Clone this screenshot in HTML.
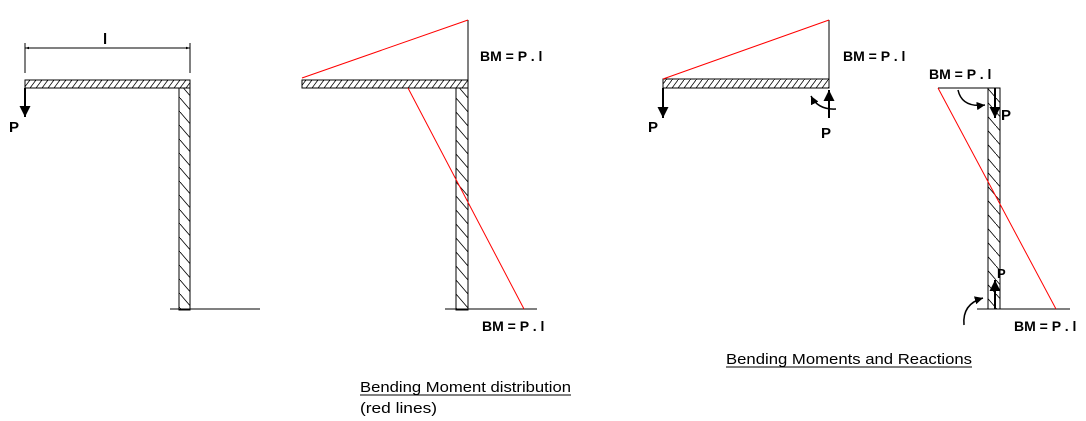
<!DOCTYPE html>
<html><head><meta charset="utf-8"><style>
html,body{margin:0;padding:0;background:#fff;}
svg{display:block;}
.bm{font-family:"Liberation Sans",sans-serif;font-weight:bold;font-size:14px;}
.cap{font-family:"Liberation Sans",sans-serif;font-size:15px;}
</style></head><body>
<svg width="1086" height="421" viewBox="0 0 1086 421" xmlns="http://www.w3.org/2000/svg">
<defs>
<pattern id="hb" patternUnits="userSpaceOnUse" width="6" height="8">
<line x1="0" y1="8" x2="6" y2="0" stroke="#000" stroke-width="0.8"/>
</pattern>
<pattern id="hc" patternUnits="userSpaceOnUse" width="12" height="14">
<line x1="0" y1="0" x2="12" y2="14" stroke="#000" stroke-width="0.8"/>
</pattern>
<marker id="ar" viewBox="0 0 10 10" refX="10" refY="5" markerWidth="5.5" markerHeight="5.5" orient="auto">
<path d="M0,0 L10,5 L0,10 z" fill="#000"/></marker>
<marker id="as" viewBox="0 0 10 10" refX="10" refY="5" markerWidth="8" markerHeight="4" orient="auto">
<path d="M0,2 L10,5 L0,8 z" fill="#000"/></marker>
</defs>
<g fill="none" stroke="#000" stroke-width="1">
<line x1="25" y1="43" x2="25" y2="73"/>
<line x1="190" y1="43" x2="190" y2="73"/>
<line x1="25" y1="48" x2="190" y2="48" marker-end="url(#as)"/>
<line x1="190" y1="48" x2="25" y2="48" marker-end="url(#as)"/>
<rect x="25" y="80" width="165" height="8" fill="url(#hb)"/>
<rect x="179" y="88" width="11" height="222" fill="url(#hc)"/>
<line x1="170" y1="309" x2="260" y2="309"/>
<line x1="25" y1="88" x2="25" y2="117" stroke-width="2" marker-end="url(#ar)"/>
<rect x="302" y="80" width="166" height="8" fill="url(#hb)"/>
<rect x="456" y="88" width="12" height="222" fill="url(#hc)"/>
<line x1="468" y1="20" x2="468" y2="80"/>
<line x1="445" y1="309" x2="537" y2="309"/>
<rect x="663" y="79" width="166" height="9" fill="url(#hb)"/>
<line x1="829" y1="20" x2="829" y2="79"/>
<line x1="663" y1="88" x2="663" y2="118" stroke-width="2" marker-end="url(#ar)"/>
<line x1="829" y1="118" x2="829" y2="90" stroke-width="2" marker-end="url(#ar)"/>
<path d="M836,109 Q818,110 811,96" stroke-width="1.5" marker-end="url(#ar)"/>
<rect x="988" y="88" width="12" height="221" fill="url(#hc)"/>
<line x1="938" y1="88" x2="1000" y2="88"/>
<line x1="977" y1="309" x2="1070" y2="309"/>
<line x1="995" y1="88" x2="995" y2="118" stroke-width="2" marker-end="url(#ar)"/>
<line x1="995" y1="309" x2="995" y2="280" stroke-width="2" marker-end="url(#ar)"/>
<path d="M958,90 Q962,108 985,105" stroke-width="1.5" marker-end="url(#ar)"/>
<path d="M964,325 Q962,304 983,298" stroke-width="1.5" marker-end="url(#ar)"/>
</g>
<g stroke="#f00" stroke-width="1" fill="none">
<line x1="302" y1="78" x2="468" y2="20"/>
<line x1="408" y1="88" x2="524" y2="309"/>
<line x1="663" y1="79" x2="829" y2="20"/>
<line x1="938" y1="88" x2="1056" y2="309"/>
</g>
<g class="bm">
<text x="103" y="44" font-size="15">l</text>
<text x="9" y="132" font-size="15">P</text>
<text x="480" y="61">BM = P . l</text>
<text x="482" y="331">BM = P . l</text>
<text x="843" y="61">BM = P . l</text>
<text x="648" y="132" font-size="15">P</text>
<text x="821" y="138" font-size="15">P</text>
<text x="929" y="79">BM = P . l</text>
<text x="1001" y="120" font-size="15">P</text>
<text x="997" y="278" font-size="13">P</text>
<text x="1014" y="331">BM = P . l</text>
</g>
<g class="cap">
<text x="360" y="392" textLength="211" lengthAdjust="spacingAndGlyphs">Bending Moment distribution</text>
<line x1="360" y1="395" x2="571" y2="395" stroke="#000"/>
<text x="360" y="413" textLength="77" lengthAdjust="spacingAndGlyphs">(red lines)</text>
<text x="726" y="364" textLength="246" lengthAdjust="spacingAndGlyphs">Bending Moments and Reactions</text>
<line x1="726" y1="367" x2="972" y2="367" stroke="#000"/>
</g>
</svg>
</body></html>
